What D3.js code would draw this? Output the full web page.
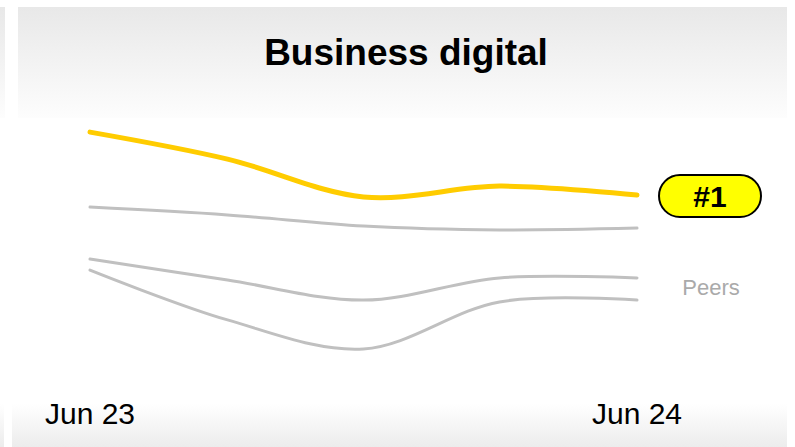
<!DOCTYPE html>
<html>
<head>
<meta charset="utf-8">
<script src="https://cdn.jsdelivr.net/npm/d3@7"></script>
<style>
  body { margin: 0; background: #fff; }
  svg { display: block; font-family: Arial, "Liberation Sans", sans-serif; }
</style>
</head>
<body>
<script>
// quarterly points, Jun 23 .. Jun 24
const dates = ["2023-06", "2023-09", "2023-12", "2024-03", "2024-06"]
const tickLabels = ["Jun 23", "Jun 24"]
const leader = [89.3, 80.3, 67.7, 71.3, 68.3]
const peerA = [64.3, 61.7, 58, 56.7, 57.3]
const peerB = [47, 40, 33.3, 40.7, 40.7]
const peerC = [43.3, 26.7, 17, 32.7, 33.3]
const peers = [peerA, peerB, peerC]
const rankLabel = "#1"

const W = 795, H = 447

const svg = d3.select('body').append('svg')
  .attr('width', W)
  .attr('height', H)

const defs = svg.append('defs')
const gTop = defs.append('linearGradient').attr('id', 'gTop')
  .attr('x1', 0).attr('x2', 0).attr('y1', 0).attr('y2', 1)
gTop.append('stop').attr('offset', 0).attr('stop-color', '#e8e8e8')
gTop.append('stop').attr('offset', 1).attr('stop-color', '#fdfdfd')
const gBot = defs.append('linearGradient').attr('id', 'gBot')
  .attr('x1', 0).attr('x2', 0).attr('y1', 0).attr('y2', 1)
gBot.append('stop').attr('offset', 0).attr('stop-color', '#ffffff')
gBot.append('stop').attr('offset', 1).attr('stop-color', '#ececec')

// background bands
svg.append('rect').attr('x', 0).attr('y', 7).attr('width', 5).attr('height', 111).attr('fill', 'url(#gTop)')
svg.append('rect').attr('x', 18).attr('y', 7).attr('width', 769).attr('height', 111).attr('fill', 'url(#gTop)')
svg.append('rect').attr('x', 0).attr('y', 404).attr('width', 4).attr('height', 43).attr('fill', 'url(#gBot)')
svg.append('rect').attr('x', 12).attr('y', 404).attr('width', 775).attr('height', 43).attr('fill', 'url(#gBot)')

svg.append('text')
  .attr('x', 406).attr('y', 65)
  .attr('text-anchor', 'middle')
  .attr('font-size', 37).attr('font-weight', 'bold')
  .text('Business digital')

const parse = d3.timeParse('%Y-%m')
const x = d3.scaleTime()
  .domain(d3.extent(dates, parse))
  .range([90, 637])
const y = d3.scaleLinear()
  .domain([0, 100])
  .range([400, 100])

const line = d3.line()
  .x((d, i) => x(parse(dates[i])))
  .y(d => y(d))
  .curve(d3.curveCatmullRom.alpha(0.5))

svg.selectAll('path.peer')
  .data(peers)
  .enter()
  .append('path')
  .attr('class', 'peer')
  .attr('d', line)
  .attr('fill', 'none')
  .attr('stroke', '#c0c0c0')
  .attr('stroke-width', 3)
  .attr('stroke-linecap', 'round')

svg.append('path')
  .attr('d', line(leader))
  .attr('fill', 'none')
  .attr('stroke', '#ffcc00')
  .attr('stroke-width', 5)
  .attr('stroke-linecap', 'round')

// x labels at the two ends
svg.selectAll('text.tick')
  .data(tickLabels)
  .enter()
  .append('text')
  .attr('class', 'tick')
  .attr('x', (d, i) => x(parse(dates[i === 0 ? 0 : dates.length - 1])))
  .attr('y', 424)
  .attr('text-anchor', 'middle')
  .attr('font-size', 30)
  .text(d => d)

// rank badge
const badge = svg.append('g').attr('transform', 'translate(710,196)')
badge.append('rect')
  .attr('x', -51).attr('y', -21).attr('width', 102).attr('height', 42)
  .attr('rx', 21)
  .attr('fill', '#ffff00').attr('stroke', '#000').attr('stroke-width', 2)
badge.append('text')
  .attr('y', 11)
  .attr('text-anchor', 'middle')
  .attr('font-size', 30).attr('font-weight', 'bold')
  .text(rankLabel)

svg.append('text')
  .attr('x', 711).attr('y', 295)
  .attr('text-anchor', 'middle')
  .attr('font-size', 22).attr('fill', '#aaaaaa')
  .text('Peers')
</script>
</body>
</html>
